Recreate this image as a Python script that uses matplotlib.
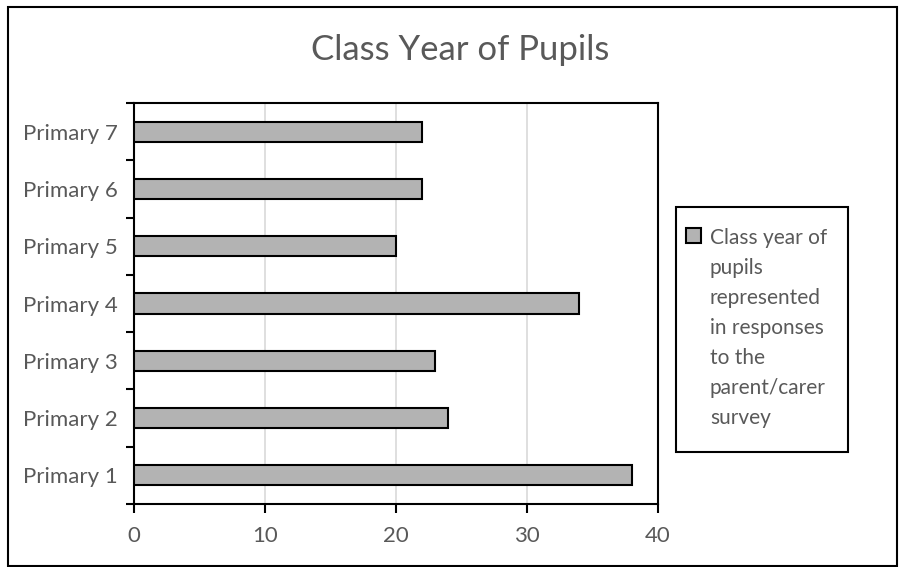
import matplotlib
matplotlib.use('Agg')
import matplotlib.pyplot as plt
from matplotlib.patches import Rectangle

# pupils per class year
years = ['Primary 1', 'Primary 2', 'Primary 3', 'Primary 4',
         'Primary 5', 'Primary 6', 'Primary 7']
counts = [38, 24, 23, 34, 20, 22, 22]
x_ticks = [0, 10, 20, 30, 40]
series_label = ('Class year of\npupils\nrepresented\nin responses\n'
                'to the\nparent/carer\nsurvey')

TXT = '#595959'
plt.rcParams['font.family'] = ['Lato', 'DejaVu Sans']

fig = plt.figure(figsize=(9.02, 5.67), dpi=100)
ax = fig.add_axes([134/902, 1-504/567, (658-134)/902, (504-103)/567])

pos = list(range(len(years)))
ax.barh(pos, counts, height=0.35, color='#b3b3b3', edgecolor='black',
        linewidth=1.5, label=series_label, zorder=3)

ax.set_xlim(0, 40)
ax.set_ylim(-0.5, len(years) - 0.5)
ax.set_xticks(x_ticks)
ax.set_xticklabels([str(v) for v in x_ticks])
ax.xaxis.grid(True, color='#d9d9d9', linewidth=1.2, zorder=0)

# category boundaries get the ticks, centres get the labels
ax.set_yticks([p - 0.5 for p in pos] + [len(years) - 0.5])
ax.set_yticklabels([])
ax.set_yticks(pos, minor=True)
ax.set_yticklabels(years, minor=True)
ax.tick_params(axis='y', which='major', length=6, width=1.5, direction='out')
ax.tick_params(axis='y', which='minor', length=0, pad=11.5,
               labelsize=16, labelcolor=TXT)
ax.tick_params(axis='x', length=6.5, width=1.5, direction='out', pad=9,
               labelsize=16, labelcolor=TXT)
for s in ax.spines.values():
    s.set_linewidth(1.5)

fig.text(460/902, 1-50/567, 'Class Year of Pupils', ha='center', va='center',
         fontsize=25, color=TXT)

# legend without its own frame; the box is drawn separately below
leg = ax.legend(loc='upper left', bbox_to_anchor=(686/902, 1-228/567),
                bbox_transform=fig.transFigure, fontsize=15,
                handlelength=0.7, handleheight=0.7, handletextpad=0.45,
                borderpad=0, borderaxespad=0, frameon=False)
for t in leg.get_texts():
    t.set_color(TXT)
    t.set_linespacing(1.62)
# pin the swatch to the first line of the wrapped label
try:
    for col in leg._legend_handle_box.get_children():
        for row in col.get_children():
            row.align = 'top'
except AttributeError:
    pass

fig.patches.append(Rectangle((676/902, 1-452/567), (848-676)/902, (452-207)/567,
                             transform=fig.transFigure, fill=False,
                             edgecolor='black', linewidth=1.5))
fig.patches.append(Rectangle((8/902, 1-566/567), (897-8)/902, (566-7)/567,
                             transform=fig.transFigure, fill=False,
                             edgecolor='black', linewidth=1.5))

fig.savefig('out.png', dpi=100)
